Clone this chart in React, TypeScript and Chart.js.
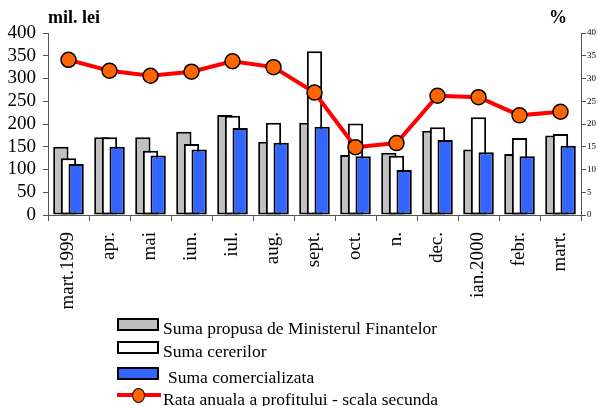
import React, { useEffect, useRef } from 'react';
import { Chart, registerables } from 'chart.js';

Chart.register(...registerables);

const categories = ['mart.1999', 'apr.', 'mai', 'iun.', 'iul.', 'aug.', 'sept.', 'oct.', 'n.', 'dec.', 'ian.2000', 'febr.', 'mart.'];
const sumaPropusa = [150, 171, 171, 183, 220, 161, 203, 132, 137, 185, 144, 134, 175];
const sumaCererilor = [125, 171, 141, 156, 218, 203, 360, 201, 130, 193, 215, 169, 178];
const sumaComercializata = [112, 150, 131, 144, 191, 159, 194, 129, 99, 165, 138, 129, 152];
const rataProfit = [34.1, 31.7, 30.6, 31.5, 33.8, 32.5, 26.9, 14.9, 15.8, 26.2, 25.9, 21.9, 22.7];

const leftAxis = { min: 0, max: 400, step: 50 };
const rightAxis = { min: 0, max: 40, step: 5 };
const leftTitle = 'mil. lei';
const rightTitle = '%';

const seriesNames = [
  'Suma propusa de Ministerul Finantelor',
  'Suma cererilor',
  'Suma comercializata',
  'Rata anuala a profitului - scala secunda',
];
const barColors = ['#c0c0c0', '#ffffff', '#3366ff'];
const lineColor = '#ff0000';
const markerColor = '#ff6600';

const SERIF = "'Liberation Serif', 'DejaVu Serif', serif";

const drawOrderPlugin = {
  id: 'drawOrder',
  beforeDatasetsDraw(chart: any) {
    for (let i = 0; i < chart.data.datasets.length; i++) {
      const meta = chart.getDatasetMeta(i);
      if (meta.visible) meta.controller.draw();
    }
    return false;
  },
};

const titlesPlugin = {
  id: 'axisTitles',
  afterDraw(chart: any) {
    const { ctx, chartArea } = chart;
    ctx.save();
    ctx.fillStyle = '#000';
    ctx.font = `bold 18px ${SERIF}`;
    ctx.textBaseline = 'middle';
    ctx.textAlign = 'left';
    ctx.fillText(leftTitle, chartArea.left, 18);
    ctx.textAlign = 'right';
    ctx.fillText(rightTitle, chartArea.right - 14, 18);
    ctx.restore();
  },
};

export default function App() {
  const canvasRef = useRef<HTMLCanvasElement>(null);

  useEffect(() => {
    document.body.style.margin = '0';
    const canvas = canvasRef.current;
    if (!canvas) return;
    const barCommon = {
      type: 'bar' as const,
      yAxisID: 'y',
      borderColor: '#000',
      borderWidth: 2,
      borderSkipped: false as const,
      barPercentage: 2,
      categoryPercentage: 0.56,
    };
    const chart = new Chart(canvas, {
      type: 'bar',
      data: {
        labels: categories,
        datasets: [
          { ...barCommon, label: seriesNames[0], data: sumaPropusa, backgroundColor: barColors[0] },
          { ...barCommon, label: seriesNames[1], data: sumaCererilor, backgroundColor: barColors[1] },
          { ...barCommon, label: seriesNames[2], data: sumaComercializata, backgroundColor: barColors[2] },
          {
            type: 'line',
            label: seriesNames[3],
            data: rataProfit,
            yAxisID: 'y1',
            borderColor: lineColor,
            borderWidth: 4,
            pointBackgroundColor: markerColor,
            pointBorderColor: '#000',
            pointBorderWidth: 1.5,
            pointRadius: 7.5,
            tension: 0,
          } as any,
        ],
      },
      options: {
        animation: false,
        responsive: false,
        layout: { padding: { top: 33, left: 0, right: 0, bottom: 0 } },
        plugins: { legend: { display: false }, tooltip: { enabled: false } },
        scales: {
          x: {
            type: 'category',
            offset: true,
            grid: { display: true, drawOnChartArea: false, drawTicks: true, tickLength: 6, color: '#555', offset: true },
            border: { display: true, color: '#555', width: 1 },
            ticks: {
              font: { family: SERIF, size: 19 },
              color: '#000',
              minRotation: 90,
              maxRotation: 90,
              autoSkip: false,
              padding: 11,
            },
            afterFit: (scale: any) => {
              scale.height = 191;
            },
          },
          y: {
            position: 'left',
            min: leftAxis.min,
            max: leftAxis.max,
            ticks: { stepSize: leftAxis.step, font: { family: SERIF, size: 19 }, color: '#000', padding: 7, autoSkip: false },
            grid: { drawOnChartArea: false, drawTicks: true, tickLength: 5, color: '#555' },
            border: { display: true, color: '#555', width: 1 },
            afterFit: (scale: any) => {
              scale.width = 48;
            },
          },
          y1: {
            position: 'right',
            min: rightAxis.min,
            max: rightAxis.max,
            ticks: { stepSize: rightAxis.step, font: { family: SERIF, size: 9 }, color: '#000', padding: 1, autoSkip: false },
            grid: { drawOnChartArea: false, drawTicks: true, tickLength: 5, color: '#555' },
            border: { display: true, color: '#555', width: 1 },
            afterFit: (scale: any) => {
              scale.width = 17;
            },
          },
        },
      },
      plugins: [drawOrderPlugin, titlesPlugin],
    });
    return () => chart.destroy();
  }, []);

  const rowTops = [318, 341, 367, 388];
  const textStyle: React.CSSProperties = {
    position: 'absolute',
    left: 163,
    fontFamily: SERIF,
    fontSize: 17.5,
    letterSpacing: '0px',
    color: '#000',
    whiteSpace: 'nowrap',
    lineHeight: '17px',
  };

  return (
    <div style={{ position: 'absolute', left: 0, top: 0, width: 598, height: 406, overflow: 'hidden', background: '#fff' }}>
      <canvas ref={canvasRef} width={598} height={406} style={{ position: 'absolute', left: 0, top: 0 }} />
      {barColors.map((c, i) => (
        <React.Fragment key={i}>
          <div
            style={{
              position: 'absolute',
              left: 117,
              top: rowTops[i],
              width: 42,
              height: 13,
              boxSizing: 'border-box',
              border: '2px solid #000',
              background: c,
            }}
          />
          <div style={{ ...textStyle, top: rowTops[i] + 2, left: i === 2 ? 168 : 163 }}>{seriesNames[i]}</div>
        </React.Fragment>
      ))}
      <div style={{ position: 'absolute', left: 117, top: rowTops[3] + 5, width: 44, height: 4, background: lineColor }} />
      <div
        style={{
          position: 'absolute',
          left: 132,
          top: rowTops[3],
          width: 13,
          height: 15,
          boxSizing: 'border-box',
          borderRadius: '50%',
          border: '1.5px solid #000',
          background: markerColor,
        }}
      />
      <div style={{ ...textStyle, top: rowTops[3] + 3 }}>{seriesNames[3]}</div>
    </div>
  );
}
